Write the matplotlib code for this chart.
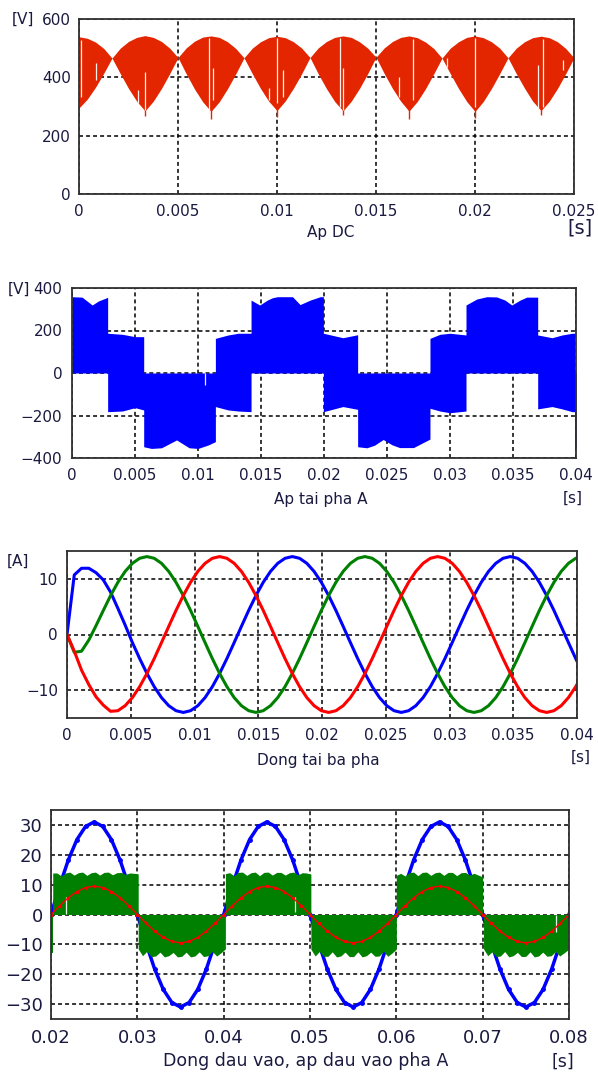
import numpy as np
import matplotlib
matplotlib.use("Agg")
import matplotlib.pyplot as plt

# ---------------- data ----------------

# panel 1 : DC link voltage (envelope of the chopped signal)
t1_end = 0.025
dc_top = [539, 534, 521, 499, 466, 500, 523, 537,
          543, 537, 523, 500, 468, 501, 524, 538,
          542, 537, 522, 499, 467, 500, 522, 536,
          541, 536, 522, 500, 468, 501, 523, 537,
          542, 537, 522, 500, 469, 501, 523, 537,
          542, 536, 521, 499, 466, 500, 522, 537,
          542, 536, 522, 500, 467, 500, 522, 536,
          541, 536, 522, 499, 467]
dc_bot = [295, 325, 366, 414, 466, 413, 362, 318,
          285, 318, 362, 413, 468, 412, 360, 316,
          283, 316, 361, 412, 467, 413, 362, 318,
          286, 319, 363, 413, 468, 412, 361, 317,
          285, 318, 362, 413, 469, 413, 362, 318,
          284, 317, 361, 412, 466, 413, 362, 317,
          283, 317, 362, 413, 467, 413, 363, 318,
          286, 318, 362, 413, 467]
# white gaps inside the red band: time, low, high
dc_gap_t = [0.00008, 0.00086, 0.00298, 0.00333, 0.00658, 0.00678, 0.00961, 0.00998,
            0.01029, 0.01318, 0.01335, 0.01616, 0.01688, 0.01857, 0.0200, 0.0232,
            0.02345, 0.02446]
dc_gap_lo = [334, 390, 311, 288, 277, 322, 322, 311, 334, 299, 288, 334, 322, 437,
             299, 288, 299, 425]
dc_gap_hi = [528, 448, 357, 419, 535, 431, 362, 535, 425, 535, 431, 402, 530, 465,
             535, 442, 530, 459]
# short spikes below the band
dc_spike_t = [0.00333, 0.00667, 0.0100, 0.01333, 0.01667, 0.0200, 0.02333]
dc_spike_lo = [268, 258, 264, 270, 258, 262, 270]

# panel 2 : load phase voltage (envelope of the chopped signal)
va_t = [0, 0.0008, 0.0016, 0.0021, 0.00283,
        0.00283, 0.0040, 0.0050, 0.00569,
        0.00569, 0.0063, 0.0071, 0.0083, 0.0093, 0.0100, 0.0108, 0.01138,
        0.01138, 0.0124, 0.0132, 0.01421,
        0.01421, 0.0149, 0.0155, 0.0159, 0.0163, 0.0175, 0.0181, 0.0189, 0.0197, 0.01995,
        0.01995, 0.0215, 0.02267,
        0.02267, 0.0234, 0.0240, 0.0247, 0.0254, 0.0260, 0.0271, 0.02775, 0.02841,
        0.02841, 0.0292, 0.0300, 0.03127,
        0.03127, 0.03212, 0.03291, 0.0337, 0.03437, 0.0349, 0.03556, 0.03609, 0.03696,
        0.03696, 0.0381, 0.0389, 0.0397, 0.0399,
        0.0399, 0.0400]
va_hi = [359, 357, 320, 339, 356,
         187, 182, 171, 171,
         0, 0, 0, 0, 0, 0, 0, 0,
         163, 179, 187, 187,
         343, 320, 343, 354, 359, 359, 322, 343, 359, 359,
         187, 166, 180,
         0, 0, 0, 0, 0, 0, 0, 0, 0,
         163, 182, 187, 179,
         320, 348, 359, 358, 343, 320, 343, 357, 357,
         179, 166, 179, 187, 187,
         0, 0]
va_lo = [0, 0, 0, 0, 0,
         -182, -179, -163, -174,
         -347, -355, -352, -315, -352, -355, -339, -323,
         -158, -174, -179, -182,
         0, 0, 0, 0, 0, 0, 0, 0, 0, 0,
         -182, -158, -171,
         -347, -352, -340, -313, -338, -351, -351, -331, -311,
         -166, -179, -187, -179,
         0, 0, 0, 0, 0, 0, 0, 0, 0,
         -169, -158, -169, -182, -182,
         -355, -355]

# panel 3 : three phase load currents, sampled every 0.57 ms
t3_step = 0.00057
ia = [0, 10.7, 11.9, 11.9, 11.1, 9.8, 7.6, 4.7, 1.7,
      -1.46, -4.33, -7.0, -9.37, -11.33, -12.79, -13.69,
      -14.0, -13.69, -12.79, -11.33, -9.37, -7.0, -4.33, -1.46, 1.46, 4.33,
      7.0, 9.37, 11.33, 12.79, 13.69, 14.0, 13.69, 12.79, 11.33, 9.37,
      7.0, 4.33, 1.46, -1.46, -4.33, -7.0, -9.37, -11.33, -12.79, -13.69,
      -14.0, -13.69, -12.79, -11.33, -9.37, -7.0, -4.33, -1.46, 1.46, 4.33,
      7.0, 9.37, 11.33, 12.79, 13.69, 14.0, 13.69, 12.79, 11.33, 9.37,
      7.0, 4.33, 1.46, -1.46, -4.33, -7.0]
ib = [0, -3.2, -3.0, -1.0, 1.6,
      4.33, 7.0, 9.37, 11.33, 12.79, 13.69, 14.0, 13.69, 12.79, 11.33, 9.37,
      7.0, 4.33, 1.46, -1.46, -4.33, -7.0, -9.37, -11.33, -12.79, -13.69,
      -14.0, -13.69, -12.79, -11.33, -9.37, -7.0, -4.33, -1.46, 1.46, 4.33,
      7.0, 9.37, 11.33, 12.79, 13.69, 14.0, 13.69, 12.79, 11.33, 9.37,
      7.0, 4.33, 1.46, -1.46, -4.33, -7.0, -9.37, -11.33, -12.79, -13.69,
      -14.0, -13.69, -12.79, -11.33, -9.37, -7.0, -4.33, -1.46, 1.46, 4.33,
      7.0, 9.37, 11.33, 12.79, 13.69, 14.0]
ic = [0, -3.0, -6.4, -9.0, -11.2, -12.7, -13.8,
      -13.69, -12.79, -11.33, -9.37, -7.0, -4.33, -1.46, 1.46, 4.33,
      7.0, 9.37, 11.33, 12.79, 13.69, 14.0, 13.69, 12.79, 11.33, 9.37,
      7.0, 4.33, 1.46, -1.46, -4.33, -7.0, -9.37, -11.33, -12.79, -13.69,
      -14.0, -13.69, -12.79, -11.33, -9.37, -7.0, -4.33, -1.46, 1.46, 4.33,
      7.0, 9.37, 11.33, 12.79, 13.69, 14.0, 13.69, 12.79, 11.33, 9.37,
      7.0, 4.33, 1.46, -1.46, -4.33, -7.0, -9.37, -11.33, -12.79, -13.69,
      -14.0, -13.69, -12.79, -11.33, -9.37, -7.0]

# panel 4 : input voltage (blue), scaled voltage (red), input current (green)
t4_start, t4_step = 0.02, 0.001
vin = [0, 9.58, 18.22, 25.08, 29.48, 31.0, 29.48, 25.08, 18.22, 9.58,
       0, -9.58, -18.22, -25.08, -29.48, -31.0, -29.48, -25.08, -18.22, -9.58,
       0, 9.58, 18.22, 25.08, 29.48, 31.0, 29.48, 25.08, 18.22, 9.58,
       0, -9.58, -18.22, -25.08, -29.48, -31.0, -29.48, -25.08, -18.22, -9.58,
       0, 9.58, 18.22, 25.08, 29.48, 31.0, 29.48, 25.08, 18.22, 9.58,
       0, -9.58, -18.22, -25.08, -29.48, -31.0, -29.48, -25.08, -18.22, -9.58, 0]
vref = [0, 2.94, 5.58, 7.69, 9.03, 9.5, 9.03, 7.69, 5.58, 2.94,
        0, -2.94, -5.58, -7.69, -9.03, -9.5, -9.03, -7.69, -5.58, -2.94,
        0, 2.94, 5.58, 7.69, 9.03, 9.5, 9.03, 7.69, 5.58, 2.94,
        0, -2.94, -5.58, -7.69, -9.03, -9.5, -9.03, -7.69, -5.58, -2.94,
        0, 2.94, 5.58, 7.69, 9.03, 9.5, 9.03, 7.69, 5.58, 2.94,
        0, -2.94, -5.58, -7.69, -9.03, -9.5, -9.03, -7.69, -5.58, -2.94, 0]
iin_start = [0.0200, 0.0202, 0.0301, 0.0402, 0.0501, 0.0600, 0.0701]
iin_end = [0.0202, 0.0301, 0.0402, 0.0501, 0.0600, 0.0700, 0.0799]
iin_sign = [-1, 1, -1, 1, -1, 1, -1]
iin_level = [
    [13.0, 13.0],
    [13.9, 13.9, 12.9, 13.9, 14.2, 13.2, 14.0, 14.2, 13.1, 14.0, 14.2,
     13.2, 14.1, 14.2, 13.3, 14.0, 14.1, 13.4, 13.9, 13.8, 13.6],
    [11.5, 13.8, 12.3, 14.1, 13.9, 12.6, 14.2, 13.8, 12.7, 14.2, 14.0,
     12.6, 14.2, 13.9, 12.5, 14.1, 13.8, 12.4, 13.9, 12.8, 11.5],
    [13.7, 14.0, 13.0, 14.1, 14.2, 13.1, 14.0, 14.2, 13.0, 14.1, 14.2,
     13.2, 14.1, 14.1, 13.2, 14.0, 14.2, 13.3, 14.0, 13.9, 13.5],
    [11.6, 13.9, 12.4, 14.0, 14.0, 12.5, 14.2, 13.9, 12.6, 14.1, 14.1,
     12.5, 14.2, 13.8, 12.6, 14.0, 13.9, 12.3, 14.0, 12.9, 11.6],
    [13.1, 13.8, 12.9, 14.0, 14.2, 13.0, 14.1, 14.2, 13.1, 14.0, 14.2,
     13.1, 14.1, 14.1, 13.0, 14.0, 14.1, 13.2, 13.8, 13.2, 12.6],
    [11.5, 13.8, 12.5, 14.1, 13.9, 12.4, 14.2, 13.8, 12.7, 14.1, 14.0,
     12.5, 14.2, 13.9, 12.6, 14.0, 13.8, 12.4, 13.9, 12.9, 11.8],
]
iin_gap_t = [0.0217, 0.0483, 0.0785]
iin_gap_lo = [0.3, 0.8, -5.9]
iin_gap_hi = [5.8, 6.0, -0.3]

# ---------------- drawing ----------------

W, H = 598, 1075
TXT = '#1a1a40'
fig = plt.figure(figsize=(W / 100, H / 100), dpi=100)


def px_axes(l, t, r, b):
    return fig.add_axes([l / W, 1 - b / H, (r - l) / W, (b - t) / H])


def label(x, y, s, size=11, ha='center'):
    fig.text(x / W, 1 - y / H, s, ha=ha, va='center', fontsize=size, color=TXT)


def style(ax, fs=11, padx=7, pady=6):
    ax.grid(True, color='black', linestyle=(0, (2.6, 2.0)), linewidth=1.1)
    ax.set_axisbelow(True)
    for s in ax.spines.values():
        s.set_linewidth(1.3)
        s.set_color('#303030')
    ax.tick_params(length=0, labelsize=fs, labelcolor=TXT)
    ax.tick_params(axis='x', pad=padx)
    ax.tick_params(axis='y', pad=pady)


# panel 1
ax1 = px_axes(79, 19, 574, 194)
t1 = np.linspace(0, t1_end, len(dc_top))
ax1.fill_between(t1, dc_bot, dc_top, color='#E32600', lw=0)
ax1.vlines(dc_spike_t, dc_spike_lo, 300, color='#E32600', lw=1.0)
ax1.vlines(dc_gap_t, dc_gap_lo, dc_gap_hi, color='#FFF0EC', lw=0.9)
ax1.set_xlim(0, 0.025)
ax1.set_ylim(0, 600)
ax1.set_xticks([0, 0.005, 0.01, 0.015, 0.02, 0.025])
ax1.set_xticklabels(['0', '0.005', '0.01', '0.015', '0.02', '0.025'])
ax1.set_yticks([0, 200, 400, 600])
style(ax1, padx=7, pady=6)
label(12, 19, '[V]', ha='left')
label(331, 232, 'Ap DC')
label(580, 228, '[s]', size=14)

# panel 2
ax2 = px_axes(72, 288, 576, 458)
ax2.fill_between(va_t, va_lo, va_hi, color='#0000FF', lw=0)
ax2.vlines([0.01053], -56, 0, color='#E8E8FF', lw=0.9)
ax2.set_xlim(0, 0.04)
ax2.set_ylim(-400, 400)
ax2.set_xticks([0, 0.005, 0.01, 0.015, 0.02, 0.025, 0.03, 0.035, 0.04])
ax2.set_xticklabels(['0', '0.005', '0.01', '0.015', '0.02', '0.025', '0.03', '0.035', '0.04'])
ax2.set_yticks([-400, -200, 0, 200, 400])
style(ax2, padx=7, pady=7)
label(8, 289, '[V]', ha='left')
label(321, 500, 'Ap tai pha A')
label(573, 498, '[s]')

# panel 3
ax3 = px_axes(67, 551, 577, 718)
t3 = np.arange(len(ia)) * t3_step
ax3.plot(t3, ia, color='#0000FF', lw=2.2)
ax3.plot(t3, ib, color='#008000', lw=2.2)
ax3.plot(t3, ic, color='#FF0000', lw=2.2)
ax3.set_xlim(0, 0.04)
ax3.set_ylim(-15, 15)
ax3.set_xticks([0, 0.005, 0.01, 0.015, 0.02, 0.025, 0.03, 0.035, 0.04])
ax3.set_xticklabels(['0', '0.005', '0.01', '0.015', '0.02', '0.025', '0.03', '0.035', '0.04'])
ax3.set_yticks([-10, 0, 10])
style(ax3, padx=7, pady=6.5)
label(7, 561, '[A]', ha='left')
label(318, 761, 'Dong tai ba pha')
label(581, 757, '[s]')

# panel 4 : blue below the green band, red on top
ax4 = px_axes(51, 810, 569, 1019)
t4 = t4_start + np.arange(len(vin)) * t4_step
ax4.plot(t4, vin, color='#0000FF', lw=2.5, marker='o', ms=2.5, zorder=1.0)
for s0, s1, sg, lev in zip(iin_start, iin_end, iin_sign, iin_level):
    tb = np.linspace(s0, s1, len(lev))
    ax4.fill_between(tb, 0, sg * np.array(lev), color='#008000', lw=0, zorder=1.5)
ax4.vlines(iin_gap_t, iin_gap_lo, iin_gap_hi, color='#E8F4E8', lw=0.9, zorder=1.6)
ax4.plot(t4, vref, color='#FF0000', lw=1.0, marker='.', ms=3, zorder=2)
ax4.set_xlim(0.02, 0.08)
ax4.set_ylim(-35, 35)
ax4.set_xticks([0.02, 0.03, 0.04, 0.05, 0.06, 0.07, 0.08])
ax4.set_xticklabels(['0.02', '0.03', '0.04', '0.05', '0.06', '0.07', '0.08'])
ax4.set_yticks([-30, -20, -10, 0, 10, 20, 30])
style(ax4, fs=13, padx=7.5, pady=6)
label(306, 1061, 'Dong dau vao, ap dau vao pha A', size=12.5)
label(563, 1062, '[s]', size=12.5)

fig.savefig('out.png', dpi=100)
